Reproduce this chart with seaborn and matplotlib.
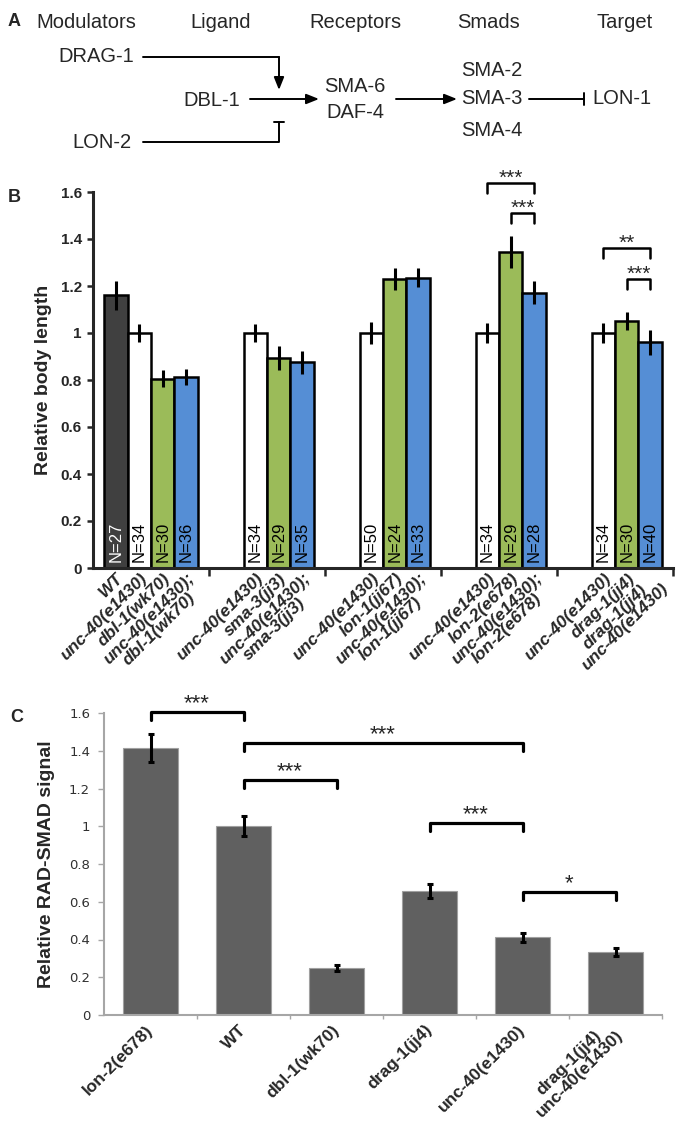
import pandas as pd
import matplotlib
matplotlib.use('Agg')
import matplotlib.pyplot as plt
import seaborn as sns

# ---- panel B: relative body length ----
b_groups = ['dbl-1', 'sma-3', 'lon-1', 'lon-2', 'drag-1']
b_kinds = ['WT', 'unc-40', 'single', 'double']
b_group = ['dbl-1'] * 4 + ['sma-3'] * 3 + ['lon-1'] * 3 + ['lon-2'] * 3 + ['drag-1'] * 3
b_kind = ['WT', 'unc-40', 'single', 'double'] + ['unc-40', 'single', 'double'] * 4
b_labels = ['WT', 'unc-40(e1430)', 'dbl-1(wk70)', 'unc-40(e1430);\ndbl-1(wk70)',
            'unc-40(e1430)', 'sma-3(jj3)', 'unc-40(e1430);\nsma-3(jj3)',
            'unc-40(e1430)', 'lon-1(jj67)', 'unc-40(e1430);\nlon-1(jj67)',
            'unc-40(e1430)', 'lon-2(e678)', 'unc-40(e1430);\nlon-2(e678)',
            'unc-40(e1430)', 'drag-1(jj4)', 'drag-1(jj4)\nunc-40(e1430)']
b_mean = [1.16, 1.0, 0.805, 0.812, 1.0, 0.893, 0.875, 1.0, 1.228, 1.236,
          1.0, 1.343, 1.172, 1.0, 1.051, 0.960]
b_err = [0.06, 0.04, 0.036, 0.034, 0.04, 0.052, 0.05, 0.047, 0.047, 0.04,
         0.043, 0.068, 0.05, 0.043, 0.038, 0.052]
b_n = [27, 34, 30, 36, 34, 29, 35, 50, 24, 33, 34, 29, 28, 34, 30, 40]
b_colors = {'WT': '#404040', 'unc-40': '#ffffff', 'single': '#9bbb59', 'double': '#558ed5'}
b_yticks = [0, 0.2, 0.4, 0.6, 0.8, 1.0, 1.2, 1.4, 1.6]
b_yticklabels = ['0', '0.2', '0.4', '0.6', '0.8', '1', '1.2', '1.4', '1.6']
# (bar a, bar b, bracket height, stars)
b_sig = [(10, 12, 1.638, '***'), (11, 12, 1.511, '***'),
         (13, 15, 1.362, '**'), (14, 15, 1.230, '***')]

# ---- panel C: relative RAD-SMAD signal ----
c_labels = ['lon-2(e678)', 'WT', 'dbl-1(wk70)', 'drag-1(jj4)', 'unc-40(e1430)',
            'drag-1(jj4)\nunc-40(e1430)']
c_mean = [1.415, 1.0, 0.249, 0.656, 0.413, 0.333]
c_err = [0.075, 0.053, 0.018, 0.037, 0.024, 0.022]
c_yticks = [0, 0.2, 0.4, 0.6, 0.8, 1.0, 1.2, 1.4, 1.6]
c_yticklabels = ['0', '0.2', '0.4', '0.6', '0.8', '1', '1.2', '1.4', '1.6']
c_sig = [(0, 1, 1.603, '***'), (1, 4, 1.439, '***'), (1, 2, 1.243, '***'),
         (3, 4, 1.016, '***'), (4, 5, 0.651, '*')]

sns.set_style('ticks')
plt.rcParams['font.family'] = ['Liberation Sans', 'DejaVu Sans']

W, H = 700, 1134
fig = plt.figure(figsize=(W / 100, H / 100), dpi=100)

# ---- panel A: pathway diagram (pixel coordinates) ----
axA = fig.add_axes([0, 1 - 165 / H, 1, 165 / H])
axA.set_xlim(0, W)
axA.set_ylim(165, 0)
axA.axis('off')
fa = dict(fontsize=14.5, va='center')
axA.text(8, 21, 'A', fontsize=13, fontweight='bold', va='center')
for name, x in [('Modulators', 86), ('Ligand', 221), ('Receptors', 355), ('Smads', 489), ('Target', 625)]:
    axA.text(x, 23, name, ha='center', **fa)
axA.text(134, 57, 'DRAG-1', ha='right', **fa)
axA.text(132, 143, 'LON-2', ha='right', **fa)
axA.text(212, 100, 'DBL-1', ha='center', **fa)
axA.text(355, 87, 'SMA-6', ha='center', **fa)
axA.text(355, 113, 'DAF-4', ha='center', **fa)
for name, y in [('SMA-2', 70), ('SMA-3', 99), ('SMA-4', 130)]:
    axA.text(492, y, name, ha='center', **fa)
axA.text(622, 99, 'LON-1', ha='center', **fa)
lk = dict(color='black', lw=1.4)
arr = dict(arrowstyle='-|>,head_length=0.75,head_width=0.3', color='black', lw=1.4,
           shrinkA=0, shrinkB=0)
axA.plot([143, 279], [57, 57], **lk)
axA.annotate('', xy=(279, 90), xytext=(279, 57), arrowprops=arr)
axA.annotate('', xy=(319, 99), xytext=(250, 99), arrowprops=arr)
axA.annotate('', xy=(457, 99), xytext=(396, 99), arrowprops=arr)
axA.plot([529, 584], [99, 99], **lk)
axA.plot([584, 584], [93, 105], **lk)
axA.plot([143, 279, 279], [142, 142, 122], **lk)
axA.plot([274, 284], [122, 122], **lk)

# ---- panel B ----
axB = fig.add_axes([93 / W, 1 - 568 / H, 580 / W, 376 / H])
df_b = pd.DataFrame({'group': b_group, 'kind': b_kind, 'mean': b_mean,
                     'err': b_err, 'n': b_n, 'label': b_labels})
sns.barplot(data=df_b, x='group', y='mean', hue='kind', order=b_groups, hue_order=b_kinds,
            palette=b_colors, saturation=1, width=0.81, gap=0, errorbar=None,
            edgecolor='black', linewidth=1.8, legend=False, ax=axB)

centers = [None] * len(df_b)
for cont, kind in zip(axB.containers, b_kinds):
    idx = df_b.index[df_b['kind'] == kind]
    for bar, i in zip(cont, idx):
        centers[i] = bar.get_x() + bar.get_width() / 2

for i, row in df_b.iterrows():
    axB.errorbar(centers[i], row['mean'], yerr=row['err'], fmt='none',
                 ecolor='black', elinewidth=2.2, capsize=0, zorder=5)
    axB.text(centers[i], 0.025, f"N={row['n']}", rotation=90, ha='center', va='bottom',
             fontsize=12, color='white' if row['kind'] == 'WT' else 'black', zorder=6)

for a, b, y, stars in b_sig:
    axB.plot([centers[a], centers[a], centers[b], centers[b]], [y - 0.042, y, y, y - 0.042],
             color='black', lw=1.8, clip_on=False, zorder=6)
    axB.text((centers[a] + centers[b]) / 2, y + 0.02, stars, ha='center', va='center',
             fontsize=15, clip_on=False)

axB.set_xlim(-0.5, 4.5)
axB.set_ylim(0, 1.6)
axB.set_yticks(b_yticks, labels=b_yticklabels, fontsize=11, fontweight='bold')
axB.set_xticks(centers, labels=b_labels, rotation=45, ha='right', va='top',
               rotation_mode='anchor', fontsize=12.5, fontweight='bold', style='italic',
               multialignment='center', linespacing=0.9)
axB.set_xticks([0.5, 1.5, 2.5, 3.5, 4.5], minor=True)
axB.tick_params(axis='x', which='major', length=0, pad=2)
axB.tick_params(axis='x', which='minor', length=6, width=1.8, direction='out')
axB.tick_params(axis='y', length=4, width=1.8, direction='out', pad=4)
for s in ['left', 'bottom']:
    axB.spines[s].set_linewidth(2.2)
sns.despine(ax=axB)
axB.set_xlabel('')
axB.set_ylabel('Relative body length', fontsize=14, fontweight='bold', labelpad=6)
fig.text(8 / W, 1 - 197 / H, 'B', fontsize=13, fontweight='bold', va='center')

# ---- panel C ----
axC = fig.add_axes([104 / W, 1 - 1015 / H, 558 / W, 302 / H])
df_c = pd.DataFrame({'label': c_labels, 'mean': c_mean, 'err': c_err})
sns.barplot(data=df_c, x='label', y='mean', color='#606060', saturation=1, width=0.59,
            errorbar=None, edgecolor='#a0a0a0', linewidth=0.8, ax=axC)
c_centers = [p.get_x() + p.get_width() / 2 for p in axC.patches]
axC.errorbar(c_centers, c_mean, yerr=c_err, fmt='none', ecolor='black',
             elinewidth=2.2, capsize=2, capthick=2.2, zorder=5)
for a, b, y, stars in c_sig:
    axC.plot([c_centers[a], c_centers[a], c_centers[b], c_centers[b]], [y - 0.04, y, y, y - 0.04],
             color='black', lw=2.3, clip_on=False, zorder=6)
    axC.text((c_centers[a] + c_centers[b]) / 2, y + 0.045, stars, ha='center', va='center',
             fontsize=16, clip_on=False)

axC.set_xlim(-0.5, 5.5)
axC.set_ylim(0, 1.6)
axC.set_yticks(c_yticks, labels=c_yticklabels, family='DejaVu Sans', fontsize=9.5, color='#303030')
axC.set_xticks(c_centers, labels=c_labels, rotation=45, ha='right', va='center',
               rotation_mode='anchor', fontsize=12.5, fontweight='bold',
               multialignment='center', linespacing=1.0)
axC.set_xticks([0.5, 1.5, 2.5, 3.5, 4.5, 5.5], minor=True)
axC.tick_params(axis='x', which='major', length=0, pad=9)
axC.tick_params(axis='x', which='minor', length=3, width=1, color='#a6a6a6', direction='out')
axC.tick_params(axis='y', length=4, width=1, color='#a6a6a6', direction='out', pad=6)
for s in ['left', 'bottom']:
    axC.spines[s].set_linewidth(1.5)
    axC.spines[s].set_color('#a6a6a6')
sns.despine(ax=axC)
axC.set_xlabel('')
axC.set_ylabel('Relative RAD-SMAD signal', fontsize=14, fontweight='bold', labelpad=10)
fig.text(10 / W, 1 - 717 / H, 'C', fontsize=13, fontweight='bold', va='center')

plt.savefig('out.png', dpi=100)
